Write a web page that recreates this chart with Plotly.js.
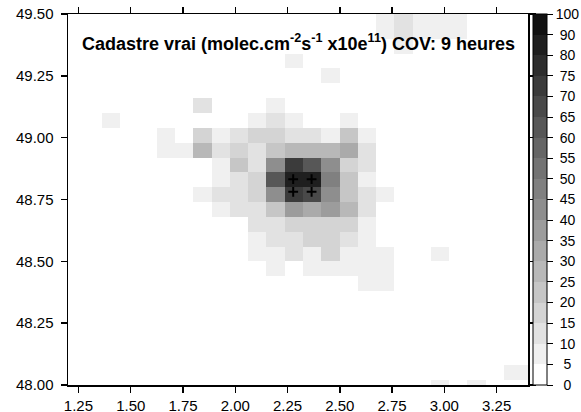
<!DOCTYPE html>
<html>
<head>
<meta charset="utf-8">
<script src="https://cdn.plot.ly/plotly-3.0.1.min.js"></script>
<style>html,body{margin:0;padding:0;background:#fff;}#chart{width:581px;height:412px;}</style>
</head>
<body>
<div id="chart"></div>
<script>
// Grid cell centres (longitude, latitude)
const lonCenters = [1.318,1.405,1.493,1.580,1.668,1.755,1.842,1.929,2.017,2.104,2.191,2.279,2.366,2.453,2.541,2.628,2.715,2.802,2.890,2.977,3.064,3.152,3.239,3.326,3.414];
const latCenters = [49.49,49.43,49.37,49.31,49.25,49.19,49.13,49.07,49.01,48.95,48.89,48.83,48.77,48.71,48.65,48.59,48.53,48.47,48.41,48.35,48.29,48.23,48.17,48.11,48.05,47.99];
// Emission values (molec.cm-2 s-1 x10e11), one row per latitude above
const emissions = [
 [0,0,0,0,0,0,0,0,0,0,0,0,0,0,0,0,7,12,7,7,7,0,0,0,0],
 [0,0,0,0,0,0,0,0,0,0,0,0,0,0,0,0,7,12,7,7,7,0,0,0,0],
 [0,0,0,0,0,0,0,0,0,0,0,0,0,0,0,0,0,7,0,0,0,0,0,0,0],
 [0,0,0,0,0,0,0,0,0,0,0,7,0,0,0,0,0,0,0,0,0,0,0,0,0],
 [0,0,0,0,0,0,0,0,0,0,0,0,0,7,0,0,0,0,0,0,0,0,0,0,0],
 [0,0,0,0,0,0,0,0,0,0,0,0,0,0,0,0,0,0,0,0,0,0,0,0,0],
 [0,0,0,0,0,0,12,0,0,0,7,0,0,0,0,0,0,0,0,0,0,0,0,0,0],
 [0,7,0,0,0,0,0,0,0,7,12,7,0,0,7,0,0,0,0,0,0,0,0,0,0],
 [0,0,0,0,7,0,17,7,12,17,17,12,12,7,22,7,0,0,0,0,0,0,0,0,0],
 [0,0,0,0,7,7,27,12,17,12,22,27,27,27,32,12,0,0,0,0,0,0,0,0,0],
 [0,0,0,0,0,0,0,7,22,12,42,72,62,42,17,12,0,0,0,0,0,0,0,0,0],
 [0,0,0,0,0,0,0,7,12,17,62,85,85,47,22,7,0,0,0,0,0,0,0,0,0],
 [0,0,0,0,0,0,7,12,12,17,42,72,67,42,22,12,7,0,0,0,0,0,0,0,0],
 [0,0,0,0,0,0,0,7,12,12,22,37,32,37,27,12,0,0,0,0,0,0,0,0,0],
 [0,0,0,0,0,0,0,0,0,12,12,17,17,17,17,7,0,0,0,0,0,0,0,0,0],
 [0,0,0,0,0,0,0,0,0,7,12,12,17,17,12,7,0,0,0,0,0,0,0,0,0],
 [0,0,0,0,0,0,0,0,0,7,7,12,7,17,7,7,7,0,0,7,0,0,0,0,0],
 [0,0,0,0,0,0,0,0,0,0,7,0,7,7,7,7,7,0,0,0,0,0,0,0,0],
 [0,0,0,0,0,0,0,0,0,0,0,0,0,0,0,7,7,0,0,0,0,0,0,0,0],
 [0,0,0,0,0,0,0,0,0,0,0,0,0,0,0,0,0,0,0,0,0,0,0,0,0],
 [0,0,0,0,0,0,0,0,0,0,0,0,0,0,0,0,0,0,0,0,0,0,0,0,0],
 [0,0,0,0,0,0,0,0,0,0,0,0,0,0,0,0,0,0,0,0,0,0,0,0,0],
 [0,0,0,0,0,0,0,0,0,0,0,0,0,0,0,0,0,0,0,0,0,0,0,0,0],
 [0,0,0,0,0,0,0,0,0,0,0,0,0,0,0,0,0,0,0,0,0,0,0,0,0],
 [0,0,0,0,0,0,0,0,0,0,0,0,0,0,0,0,0,0,0,0,0,0,0,7,7],
 [0,0,0,0,0,0,0,0,0,0,0,0,0,0,0,0,0,0,0,7,0,7,0,0,0]
];
// Contour levels of the colour bar
const levels = [0,5,10,15,20,25,30,35,40,45,50,55,60,65,70,75,80,90,100];
const levelGreys = [255,240,226,212,198,184,170,156,142,128,115,101,87,73,59,45,31,17];
// Source locations (crosses)
const srcLon = [2.277,2.365,2.277,2.365];
const srcLat = [48.832,48.832,48.781,48.781];
const xTicks = [1.25,1.50,1.75,2.00,2.25,2.50,2.75,3.00,3.25];
const yTicks = [48.00,48.25,48.50,48.75,49.00,49.25,49.50];

// map a value onto the (non-linear) level index scale
function toLevel(v){
  for(let b=0;b<levels.length-1;b++){
    if(v<levels[b+1]) return b + (v-levels[b])/(levels[b+1]-levels[b]);
  }
  return levels.length-1;
}
const nb = levels.length-1;
const colorscale = [];
for(let b=0;b<nb;b++){
  const g = levelGreys[b];
  const c = 'rgb('+g+','+g+','+g+')';
  colorscale.push([b/nb, c]);
  colorscale.push([(b+1)/nb, c]);
}
const zLev = emissions.map(r=>r.map(toLevel));
// centre the colour-bar labels (pad with no-break spaces, half a digit each)
const cbText = levels.map(v=>{
  const s = String(v);
  return '\u00A0'.repeat(3 - s.length) + s;
});

const font = 'Liberation Sans, Arial, sans-serif';
const heat = {
  type:'heatmap', x: lonCenters, y: latCenters, z: zLev,
  zmin:0, zmax:nb, colorscale: colorscale, zsmooth:false,
  hoverinfo:'skip',
  colorbar:{
    x:1.011, xanchor:'left', xpad:0, ypad:0, y:0.5, yanchor:'middle',
    len:1, lenmode:'fraction', thickness:14, thicknessmode:'pixels',
    outlinewidth:1, outlinecolor:'#000',
    tickmode:'array', tickvals: levels.map((_,i)=>i), ticktext: cbText,
    ticks:'outside', ticklen:6, tickcolor:'#000', tickwidth:1,
    tickfont:{family:font, size:14, color:'#000'}
  }
};
const srcs = {
  type:'scatter', mode:'markers', x: srcLon, y: srcLat, hoverinfo:'skip',
  marker:{symbol:'cross-thin', size:7, color:'#000', line:{width:2, color:'#000'}},
  showlegend:false
};
const axisCommon = {
  showgrid:false, zeroline:false, showline:true, linecolor:'#000', linewidth:1.5,
  mirror:'ticks', ticks:'outside', ticklen:6, tickwidth:1.5, tickcolor:'#000',
  tickfont:{family:font, size:15, color:'#000'}, tickformat:'.2f'
};
const layout = {
  width:581, height:412,
  margin:{l:67.5, r:53, t:14, b:27, autoexpand:false},
  paper_bgcolor:'#fff', plot_bgcolor:'#fff',
  showlegend:false,
  xaxis: Object.assign({}, axisCommon, {range:[1.2,3.4], tickmode:'array', tickvals:xTicks, automargin:false}),
  yaxis: Object.assign({}, axisCommon, {range:[48.0,49.5], tickmode:'array', tickvals:yTicks, automargin:false, ticklabelstandoff:4}),
  annotations:[{
    xref:'paper', yref:'paper', x:0.025, y:0.922, xanchor:'left', yanchor:'middle',
    showarrow:false,
    text:'<b>Cadastre vrai (molec.cm<sup>-2</sup>s<sup>-1</sup> x10e<sup>11</sup>) COV: 9 heures</b>',
    font:{family:font, size:18, color:'#000'}
  }]
};
Plotly.newPlot('chart',[heat,srcs],layout,{displayModeBar:false, staticPlot:true});
</script>
</body>
</html>
